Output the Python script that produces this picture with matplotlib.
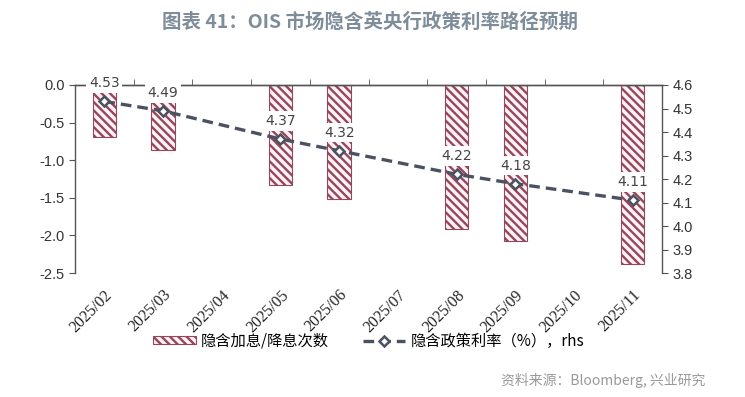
import numpy as np
import matplotlib
matplotlib.use("Agg")
import matplotlib.pyplot as plt
from matplotlib.lines import Line2D
from matplotlib.patches import Patch

plt.rcParams['font.family'] = ['Noto Sans CJK SC', 'DejaVu Sans']
plt.rcParams['hatch.linewidth'] = 1.7

months = ['2025/02', '2025/03', '2025/04', '2025/05', '2025/06',
          '2025/07', '2025/08', '2025/09', '2025/10', '2025/11']
hikes = [-0.69, -0.86, np.nan, -1.33, -1.51, np.nan, -1.92, -2.08, np.nan, -2.38]
rate = [4.53, 4.49, np.nan, 4.37, 4.32, np.nan, 4.22, 4.18, np.nan, 4.11]
title = '图表 41：OIS 市场隐含英央行政策利率路径预期'
bar_label = '隐含加息/降息次数'
line_label = '隐含政策利率（%），rhs'
source = '资料来源：Bloomberg, 兴业研究'

BAR_FACE = '#fff2f4'
BAR_EDGE = '#94475c'
LINE_C = '#4a5261'
DASH = (0, (3.2, 1.8))
HATCH = '\\\\\\\\'

fig = plt.figure(figsize=(7.45, 3.97), dpi=100)
ax = fig.add_axes([0.1007, 0.3123, 0.788, 0.4736])
ax2 = ax.twinx()

x = np.arange(len(months))
hv = np.array(hikes, dtype=float)
mask = ~np.isnan(hv)
ax.bar(x[mask], hv[mask], width=0.4, facecolor=BAR_FACE, edgecolor=BAR_EDGE,
       hatch=HATCH, linewidth=0.8, zorder=2)
ax.set_xlim(-0.5, len(months) - 0.5)
ax.set_ylim(-2.5, 0.0)
lt = np.arange(-2.5, 0.01, 0.5)
ax.set_yticks(lt)
ax.set_yticklabels([f'{v:.1f}' for v in lt],
                   family='Liberation Sans', fontsize=10.5, color='#333333')

rv = np.array(rate, dtype=float)
rm = ~np.isnan(rv)
ax2.plot(x[rm], rv[rm], linestyle=DASH, color=LINE_C, linewidth=2.4,
         marker='D', markersize=5, markerfacecolor='white',
         markeredgecolor=LINE_C, markeredgewidth=1.8, zorder=4)
for xi, v in zip(x[rm], rv[rm]):
    ax2.annotate(f'{v:.2f}', (xi, v), xytext=(0, 8), textcoords='offset points',
                 ha='center', va='bottom', fontsize=10, color='#444444',
                 family='DejaVu Sans',
                 bbox=dict(boxstyle='square,pad=0.2', fc='white', ec='none'),
                 zorder=5)
ax2.set_ylim(3.8, 4.6)
rt = np.arange(3.8, 4.61, 0.1)
ax2.set_yticks(rt)
ax2.set_yticklabels([f'{v:.1f}' for v in rt],
                    family='Liberation Sans', fontsize=10.5, color='#333333')

for a in (ax, ax2):
    a.spines['bottom'].set_visible(False)
    for s in ('top', 'left', 'right'):
        a.spines[s].set_color('#555555')
        a.spines[s].set_linewidth(1.0)
ax2.spines['left'].set_visible(False)
ax.spines['right'].set_visible(False)

ax.set_xticks(x)
ax.set_xticklabels(months, rotation=45, ha='right', rotation_mode='anchor',
                   family='Liberation Serif', fontsize=11.5, color='#222222')
ax.tick_params(axis='x', which='major', length=0, pad=10, bottom=True, top=False)
ax.set_xticks(np.arange(0.5, len(months) - 0.5, 1.0), minor=True)
ax.tick_params(axis='x', which='minor', top=True, bottom=False, direction='out',
               length=4, color='#555555')
ax.tick_params(axis='y', direction='out', length=4, color='#555555')
ax2.tick_params(axis='y', direction='out', length=4, color='#555555')

fig.text(0.497, 0.945, title, ha='center', va='center', fontsize=14,
         fontweight='bold', color='#7f8d9b')

handles = [Patch(facecolor=BAR_FACE, edgecolor=BAR_EDGE, hatch=HATCH, linewidth=0.8),
           Line2D([0], [0], linestyle=DASH, color=LINE_C, linewidth=2.4,
                  marker='D', markersize=5, markerfacecolor='white',
                  markeredgecolor=LINE_C, markeredgewidth=1.8)]
fig.legend(handles, [bar_label, line_label], loc='center', ncol=2,
           bbox_to_anchor=(0.495, 0.141), frameon=False, fontsize=11,
           handlelength=2.8, handleheight=0.5, columnspacing=2.2,
           handletextpad=0.35)

fig.text(0.947, 0.042, source, ha='right', va='center', fontsize=10,
         color='#999999')

fig.savefig('out.png', dpi=100)
